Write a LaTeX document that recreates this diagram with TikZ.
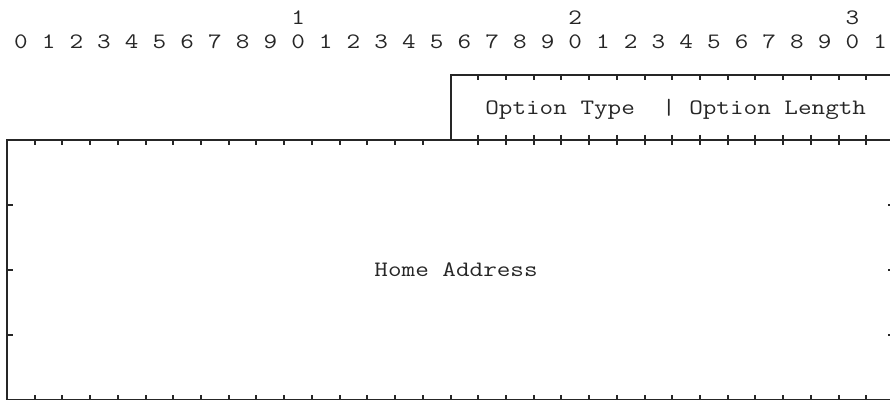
\documentclass[tikz,border=0pt]{standalone}
\usepackage{fontspec}
\usepackage{graphicx}
\usepackage{tikz}
\definecolor{rulegray}{RGB}{38,38,38}
% monospaced text, a little wider and heavier than lmtt
\newcommand{\asciitext}[1]{\scalebox{1.2}[1]{#1}}
\newcommand{\asciifont}{\fontsize{22}{26}\ttfamily\addfontfeature{FakeBold=0.5}}
\tikzset{
  frame/.style={draw=rulegray, line width=2pt},
  tickmark/.style={draw=rulegray, line width=2pt},
  bitnum/.style={inner sep=0pt, anchor=base, font=\asciifont, text=rulegray},
  field/.style={inner sep=0pt, anchor=base west, font=\asciifont, text=rulegray},
}

\begin{document}
\begin{tikzpicture}[x=27.72pt, y=-32.5pt]
  \useasboundingbox (-0.2525,-0.3077) rectangle (31.855,12);
  % bit numbers
  \foreach \b in {0,...,31} {
    \pgfmathtruncatemacro{\u}{mod(\b,10)}
    \node[bitnum] (u\b) at (\b+0.5,1.17) {\asciitext{\u}};
  }
  \foreach \t in {1,2,3}
    \node[bitnum] (t\t) at (\t*10+0.5,0.45) {\asciitext{\t}};
  % option header, bits 16-31
  \draw[frame] (16,4) -- (16,2) -- (32,2) -- (32,4);
  \foreach \b in {17,...,31} {
    \draw[tickmark] (\b,2) -- ++(0,0.154);
    \draw[tickmark] (\b,3.846) -- ++(0,0.308);
  }
  % home address block, four words
  \draw[frame] (0,4) rectangle (32,12);
  \foreach \b in {1,...,15}
    \draw[tickmark] (\b,4) -- ++(0,0.154);
  \foreach \b in {1,...,31}
    \draw[tickmark] (\b,12) -- ++(0,-0.154);
  \foreach \r in {6,8,10} {
    \draw[tickmark] (0,\r) -- ++(0.22,0);
    \draw[tickmark] (32,\r) -- ++(-0.22,0);
  }
  \node[field] (opt) at (17.25,3.2) {\asciitext{Option Type~~| Option Length}};
  \node[field] (home) at (13.25,8.2) {\asciitext{Home Address}};
\end{tikzpicture}
\end{document}
